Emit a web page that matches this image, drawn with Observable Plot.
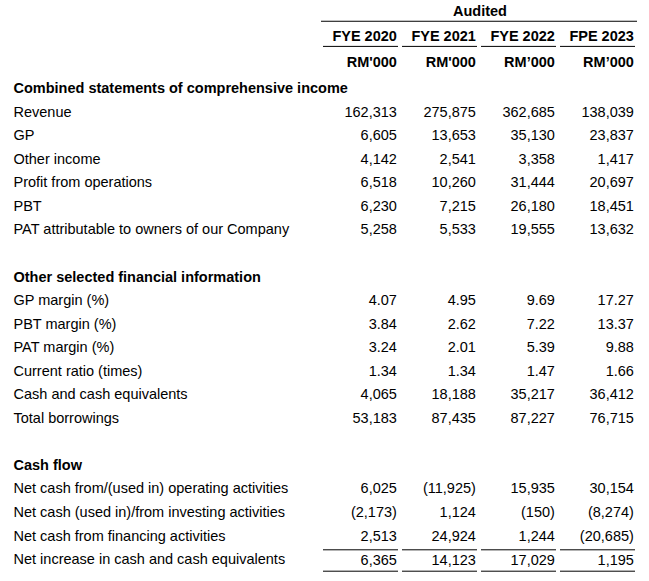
<!DOCTYPE html>
<html><head><meta charset="utf-8">
<script src="https://cdn.jsdelivr.net/npm/d3@7"></script>
<script src="https://cdn.jsdelivr.net/npm/@observablehq/plot@0.6"></script>
<style>body{margin:0;background:#fff} svg{display:block}</style>
</head><body><div id="chart"></div>
<script>
const auditLabel = "Audited";
const columns = ["FYE 2020", "FYE 2021", "FYE 2022", "FPE 2023"];
const units = ["RM'000", "RM'000", "RM’000", "RM’000"];
const sectionTitles = ["Combined statements of comprehensive income", "Other selected financial information", "Cash flow"];

const incomeRows = ["Revenue", "GP", "Other income", "Profit from operations", "PBT", "PAT attributable to owners of our Company"];
const incomeValues = [
  [162313, 275875, 362685, 138039],
  [6605, 13653, 35130, 23837],
  [4142, 2541, 3358, 1417],
  [6518, 10260, 31444, 20697],
  [6230, 7215, 26180, 18451],
  [5258, 5533, 19555, 13632]
];
const incomeDecimals = [0, 0, 0, 0, 0, 0];

const infoRows = ["GP margin (%)", "PBT margin (%)", "PAT margin (%)", "Current ratio (times)", "Cash and cash equivalents", "Total borrowings"];
const infoValues = [
  [4.07, 4.95, 9.69, 17.27],
  [3.84, 2.62, 7.22, 13.37],
  [3.24, 2.01, 5.39, 9.88],
  [1.34, 1.34, 1.47, 1.66],
  [4065, 18188, 35217, 36412],
  [53183, 87435, 87227, 76715]
];
const infoDecimals = [2, 2, 2, 2, 0, 0];

const cashRows = ["Net cash from/(used in) operating activities", "Net cash (used in)/from investing activities", "Net cash from financing activities", "Net increase in cash and cash equivalents"];
const cashValues = [
  [6025, -11925, 15935, 30154],
  [-2173, 1124, -150, -8274],
  [2513, 24924, 1244, -20685],
  [6365, 14123, 17029, 1195]
];
const cashDecimals = [0, 0, 0, 0];

// ---- build table ----
function fmt(v, d) {
  const s = d3.format(",." + d + "f")(Math.abs(v));
  return v < 0 ? "(" + s + ")" : s;
}
const sections = [
  {title: sectionTitles[0], rows: incomeRows, values: incomeValues, dec: incomeDecimals},
  {title: sectionTitles[1], rows: infoRows, values: infoValues, dec: infoDecimals},
  {title: sectionTitles[2], rows: cashRows, values: cashValues, dec: cashDecimals}
];
const titles = [], labels = [], cells = [];
let r = 3;
let totalRow = null;
sections.forEach((s) => {
  titles.push({row: r, text: s.title});
  s.rows.forEach((name, i) => {
    const row = r + 1 + i;
    labels.push({row, text: name});
    s.values[i].forEach((v, j) => cells.push({row, col: columns[j], text: fmt(v, s.dec[i])}));
    totalRow = row;
  });
  r += s.rows.length + 2;
});
const headerYears = columns.map((c) => ({row: 1, col: c, text: c}));
const headerUnits = columns.map((c, j) => ({row: 2, col: c, text: units[j]}));
const totalCols = columns.map((c) => ({row: totalRow, col: c}));
const bodyCells = cells.filter((d) => d.row !== totalRow);
const totalCells = cells.filter((d) => d.row === totalRow);

const bw = d3.scaleBand().domain(columns).range([322, 637]).paddingInner(0.05).paddingOuter(0).bandwidth();
const dxR = bw / 2 - 2;

const chart = Plot.plot({
  width: 649,
  height: 581,
  marginLeft: 322,
  marginRight: 12,
  marginTop: 0,
  marginBottom: 0,
  x: {type: "band", domain: columns, paddingInner: 0.05, paddingOuter: 0, axis: null},
  y: {type: "linear", domain: [3, 23], range: [88, 559], axis: null},
  style: {fontFamily: "'Liberation Sans', Arial, sans-serif", fontSize: "14.5px", color: "#000", background: "#fff"},
  marks: [
    // Audited header
    Plot.text([{row: 0, text: auditLabel}], {y: "row", text: "text", frameAnchor: "middle", dy: -6, fontWeight: "bold", fill: "#000"}),
    Plot.tickY(columns.map((c) => ({row: 0, col: c})), {x: "col", y: "row", dy: 3.4, insetLeft: -2, insetRight: -2, stroke: "#000", strokeWidth: 1}),
    // years
    Plot.text(headerYears, {x: "col", y: "row", text: "text", textAnchor: "end", dx: dxR, dy: -5, fontWeight: "bold", fill: "#000"}),
    Plot.tickY(headerYears, {x: "col", y: "row", dy: 5, stroke: "#000", strokeWidth: 1}),
    // units
    Plot.text(headerUnits, {x: "col", y: "row", text: "text", textAnchor: "end", dx: dxR, dy: -2.5, fontWeight: "bold", fill: "#000"}),
    // section titles
    Plot.text(titles, {y: "row", text: "text", frameAnchor: "left", textAnchor: "start", dx: -309, fontWeight: "bold", fill: "#000"}),
    // row labels
    Plot.text(labels, {y: "row", text: "text", frameAnchor: "left", textAnchor: "start", dx: -309, fill: "#000"}),
    // values
    Plot.text(bodyCells, {x: "col", y: "row", text: "text", textAnchor: "end", dx: dxR, fill: "#000"}),
    Plot.text(totalCells, {x: "col", y: "row", text: "text", textAnchor: "end", dx: dxR, dy: 1, fill: "#000"}),
    // total lines
    Plot.tickY(totalCols, {x: "col", y: "row", dy: -9.7, stroke: "#000", strokeWidth: 1}),
    Plot.tickY(totalCols, {x: "col", y: "row", dy: 11.7, stroke: "#000", strokeWidth: 1})
  ]
});
document.getElementById("chart").append(chart);
</script>
</body></html>
